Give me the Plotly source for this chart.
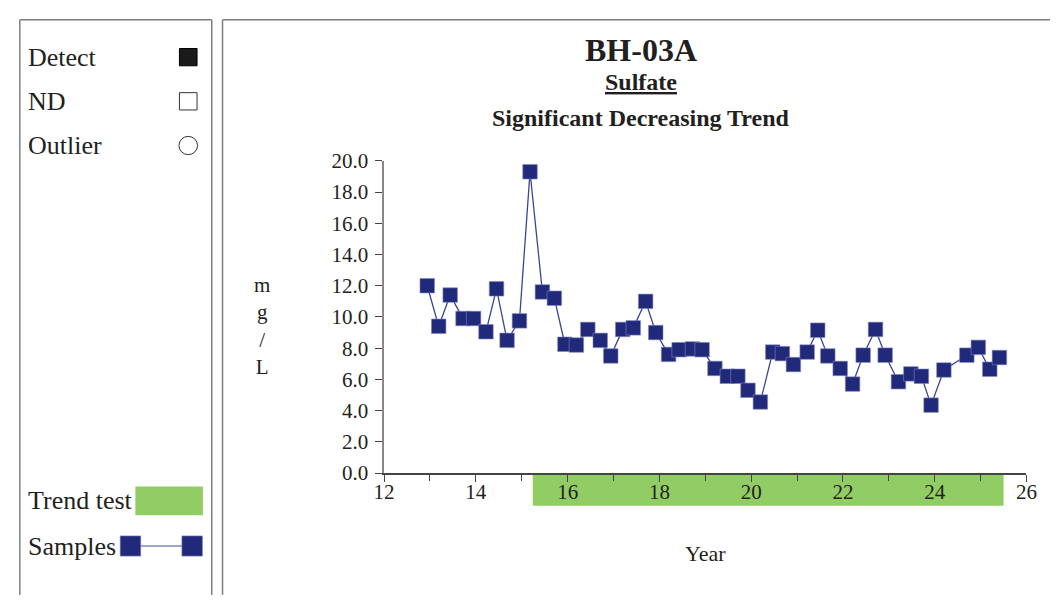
import plotly.graph_objects as go

# ---- data ----
years = [12.94, 13.19, 13.44, 13.72, 13.95, 14.22, 14.45, 14.68, 14.95, 15.18,
         15.45, 15.71, 15.94, 16.19, 16.44, 16.71, 16.94, 17.20, 17.43, 17.70,
         17.92, 18.20, 18.43, 18.72, 18.93, 19.21, 19.48, 19.71, 19.93, 20.20,
         20.47, 20.68, 20.92, 21.22, 21.45, 21.67, 21.94, 22.21, 22.44, 22.71,
         22.92, 23.21, 23.48, 23.71, 23.92, 24.20, 24.70, 24.95, 25.20, 25.41]
sulfate = [12.0, 9.4, 11.4, 9.9, 9.9, 9.05, 11.8, 8.5, 9.75, 19.3,
           11.6, 11.2, 8.25, 8.2, 9.2, 8.5, 7.5, 9.2, 9.3, 11.0,
           9.0, 7.6, 7.9, 7.95, 7.9, 6.7, 6.2, 6.2, 5.3, 4.55,
           7.75, 7.65, 6.95, 7.75, 9.15, 7.5, 6.7, 5.7, 7.55, 9.2,
           7.55, 5.85, 6.35, 6.2, 4.35, 6.6, 7.55, 8.05, 6.65, 7.4]
trend_start, trend_end = 15.24, 25.50
y_ticks = [0, 2, 4, 6, 8, 10, 12, 14, 16, 18, 20]
x_ticks = [12, 14, 16, 18, 20, 22, 24, 26]

W, H = 1061, 607
NAVY = "#21297a"
GREEN = "#92cc64"
FONT = "Liberation Serif"
TXT = "#231f20"

def px(x):
    return x / W

def py(y):
    return 1 - y / H

fig = go.Figure()
fig.add_trace(go.Scatter(
    x=years, y=sulfate, mode="lines+markers",
    line=dict(color="#3a4590", width=1.3),
    marker=dict(symbol="square", size=14.5, color=NAVY,
                line=dict(color="#7f88c0", width=0.6)),
    showlegend=False, hoverinfo="x+y"))

shapes = []
FRAME = dict(color="#7f7f7f", width=1.5)
def line(x0, y0, x1, y1):
    shapes.append(dict(type="line", xref="paper", yref="paper",
                       x0=px(x0), x1=px(x1), y0=py(y0), y1=py(y1), line=FRAME))
# frames (open at bottom / right edge of the page)
line(9, 8, 9, 607)
line(9, 8, 205, 8)
line(205, 8, 205, 607)
line(216, 8, 216, 607)
line(216, 8, 1061, 8)
# trend test bar
shapes.append(dict(type="rect", xref="x", yref="paper",
                   x0=trend_start, x1=trend_end, y0=py(514), y1=py(482),
                   line=dict(width=0), fillcolor=GREEN, layer="below"))
# legend symbols
shapes.append(dict(type="rect", xref="paper", yref="paper",
                   x0=px(172), x1=px(190), y0=py(56), y1=py(38),
                   line=dict(color="#000", width=1), fillcolor="#1a1a1a"))
shapes.append(dict(type="rect", xref="paper", yref="paper",
                   x0=px(172), x1=px(190), y0=py(102), y1=py(84),
                   line=dict(color="#333", width=1), fillcolor="white"))
shapes.append(dict(type="circle", xref="paper", yref="paper",
                   x0=px(171.5), x1=px(190.5), y0=py(148.5), y1=py(129.5),
                   line=dict(color="#333", width=1), fillcolor="white"))
shapes.append(dict(type="rect", xref="paper", yref="paper",
                   x0=px(127), x1=px(196), y0=py(524), y1=py(494),
                   line=dict(width=0), fillcolor=GREEN))
shapes.append(dict(type="line", xref="paper", yref="paper",
                   x0=px(122), x1=px(185), y0=py(556), y1=py(556),
                   line=dict(color="#7f88c0", width=1.5)))
for cx in (122, 185):
    shapes.append(dict(type="rect", xref="paper", yref="paper",
                       x0=px(cx - 10.5), x1=px(cx + 10.5), y0=py(566.5), y1=py(545.5),
                       line=dict(color="#7f88c0", width=0.6), fillcolor=NAVY))

annotations = []
def txt(text, x, y, size, xanchor="left", bold=False):
    if bold:
        text = "<b>" + text + "</b>"
    annotations.append(dict(text=text, xref="paper", yref="paper", x=px(x), y=py(y),
                            xanchor=xanchor, yanchor="middle", showarrow=False,
                            font=dict(family=FONT, size=size, color=TXT)))

txt("Detect", 15.5, 47, 26)
txt("ND", 15.5, 93, 26)
txt("Outlier", 15.5, 139, 26)
txt("Trend test", 15.5, 509, 26)
txt("Samples", 15.5, 556, 26)
txt("BH-03A", 643, 40, 32, "center", True)
txt("<u>Sulfate</u>", 643, 73, 24, "center", True)
txt("Significant Decreasing Trend", 643, 110, 24, "center", True)
txt("Year", 709, 564, 22, "center")
txt("m<br>g<br>/<br>L", 256, 327, 21, "center")

fig.update_layout(
    width=W, height=H,
    margin=dict(l=0, r=0, t=0, b=0),
    paper_bgcolor="white", plot_bgcolor="white",
    shapes=shapes, annotations=annotations,
    font=dict(family=FONT, size=21, color=TXT),
    xaxis=dict(domain=[px(381), px(1037)], range=[12, 26], tickvals=x_ticks,
               ticktext=[str(v) for v in x_ticks],
               showgrid=False, zeroline=False, showline=True,
               linecolor="#444", linewidth=1.5, ticks="outside", ticklen=7,
               tickcolor="#444", tickfont=dict(family=FONT, size=21, color=TXT),
               ticklabelstandoff=-8,
               minor=dict(dtick=1, tick0=12, ticks="outside", ticklen=6, tickcolor="#444"),
               fixedrange=True),
    yaxis=dict(domain=[py(480), py(155)], range=[0, 20], tickvals=y_ticks,
               ticktext=[f"{v:.1f}" for v in y_ticks],
               showgrid=False, zeroline=False, showline=True,
               linecolor="#888", linewidth=1.5, ticks="outside", ticklen=7,
               tickcolor="#444", tickfont=dict(family=FONT, size=21, color=TXT),
               ticklabelstandoff=3,
               fixedrange=True),
)

fig.write_html("out.html", config={"displayModeBar": False},
               post_script="document.body.style.margin='0';document.body.style.padding='0';"
                           "document.body.style.overflow='hidden';"
                           "document.documentElement.style.overflow='hidden';")
